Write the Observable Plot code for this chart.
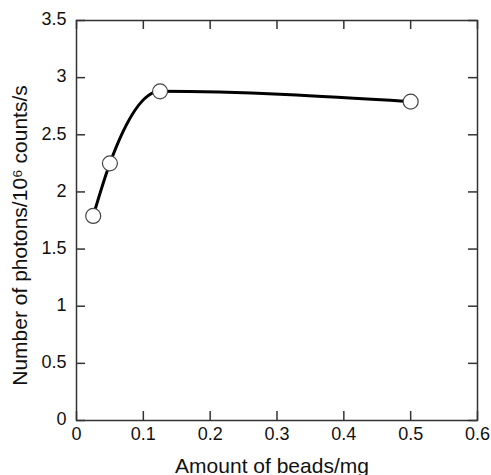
<!DOCTYPE html>
<html>
<head>
<meta charset="utf-8">
<script src="https://cdn.jsdelivr.net/npm/d3@7"></script>
<script src="https://cdn.jsdelivr.net/npm/@observablehq/plot@0.6"></script>
<style>
  html, body { margin: 0; padding: 0; background: #fff; }
</style>
</head>
<body>
<div id="chart"></div>
<script>
// Data
const beads = [0.025, 0.05, 0.125, 0.5];        // Amount of beads / mg
const photons = [1.79, 2.25, 2.88, 2.79];       // Number of photons / 10^6 counts/s
const xTicks = [0, 0.1, 0.2, 0.3, 0.4, 0.5, 0.6];
const yTicks = [0, 0.5, 1, 1.5, 2, 2.5, 3, 3.5];
const xLabel = "Amount of beads/mg";
const yLabel = "Number of photons/10\u2076 counts/s";

const data = beads.map((b, i) => ({x: b, y: photons[i]}));

const W = 491, H = 475;
const mL = 76, mR = 14, mT = 20, mB = 55;
const innerW = W - mL - mR, innerH = H - mT - mB;
const tk = 9;
const axisColor = "#333";

const chart = Plot.plot({
  width: W,
  height: H,
  marginLeft: mL,
  marginRight: mR,
  marginTop: mT,
  marginBottom: mB,
  style: {fontFamily: "'Liberation Sans', Arial, Helvetica, sans-serif", background: "#fff", color: "#111"},
  x: {domain: [0, 0.6], label: null},
  y: {domain: [0, 3.5], label: null},
  marks: [
    Plot.frame({stroke: axisColor, strokeWidth: 1.5}),
    // inward ticks on all four sides
    Plot.tickX(xTicks, {x: d => d, insetTop: innerH - tk, stroke: axisColor, strokeWidth: 1.5}),
    Plot.tickX(xTicks, {x: d => d, insetBottom: innerH - tk, stroke: axisColor, strokeWidth: 1.5}),
    Plot.tickY(yTicks, {y: d => d, insetRight: innerW - tk, stroke: axisColor, strokeWidth: 1.5}),
    Plot.tickY(yTicks, {y: d => d, insetLeft: innerW - tk, stroke: axisColor, strokeWidth: 1.5}),
    Plot.axisX(xTicks, {tickSize: 0, tickPadding: 7, fontSize: 18, tickFormat: d => String(d), label: null}),
    Plot.axisY(yTicks, {tickSize: 0, tickPadding: 10, fontSize: 18, dy: -1, tickFormat: d => String(d), label: null}),
    Plot.text([xLabel], {frameAnchor: "bottom", text: d => d, textAnchor: "middle", dx: -5, dy: 52, lineAnchor: "bottom", fontSize: 21, fill: "#111"}),
    Plot.text([yLabel], {frameAnchor: "left", text: d => d, textAnchor: "middle", rotate: -90, dx: -56, dy: 15, fontSize: 21, fill: "#111"}),
    Plot.line(data, {x: "x", y: "y", curve: "monotone-x", stroke: "#000", strokeWidth: 3}),
    Plot.dot(data, {x: "x", y: "y", r: 7.5, fill: "#fff", stroke: "#444", strokeWidth: 1.2})
  ]
});
document.getElementById("chart").appendChild(chart);
</script>
</body>
</html>
